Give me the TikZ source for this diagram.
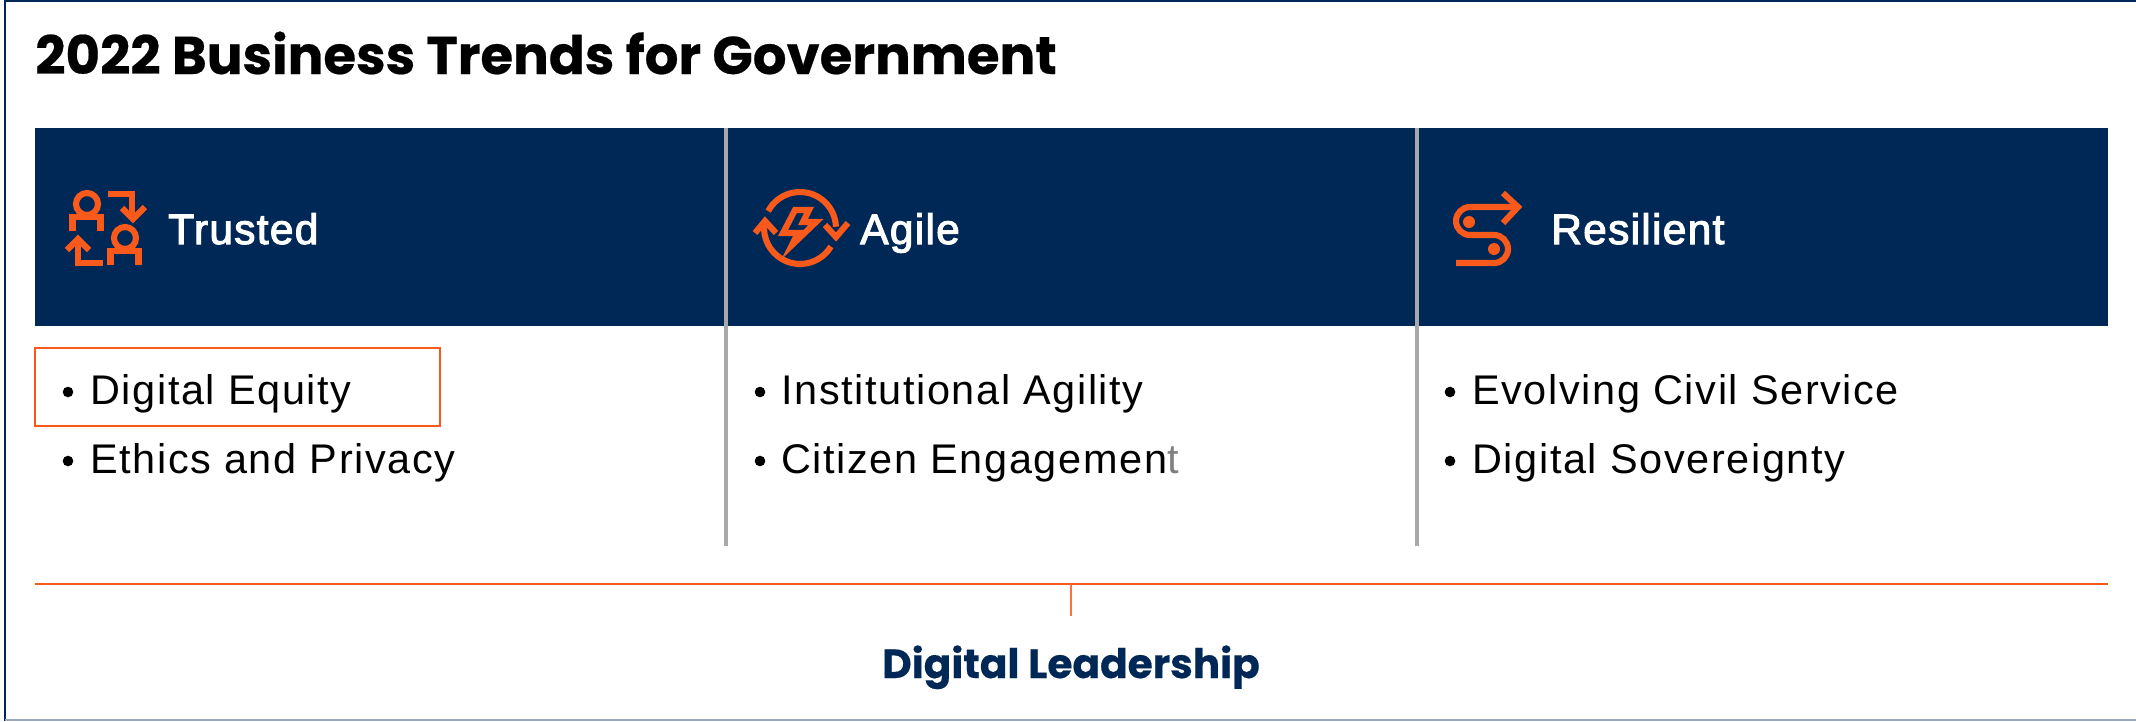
\documentclass[tikz,border=0pt]{standalone}
\usepackage{fontspec}
\setmainfont{Liberation Sans}
\newfontfamily\titlefont{Poppins}
\definecolor{navy}{HTML}{002856}
\definecolor{orng}{HTML}{F9591B}
\definecolor{sep}{HTML}{A7A9AC}
\tikzset{
  x=0.0264583cm,y=-0.0264583cm,
  icon/.style={draw=orng,line width=4.6pt,line cap=butt,line join=miter},
  head/.style={text=white,font=\fontsize{32}{32}\selectfont\addfontfeature{FakeBold=2.5,LetterSpace=3},anchor=base west,inner sep=0pt},
  item/.style={text=black,font=\fontsize{31.2}{32}\selectfont\addfontfeature{LetterSpace=3.9},anchor=base west,inner sep=0pt},
  bul/.style={circle,fill=black,minimum size=8pt,inner sep=0pt}
}
\begin{document}
\begin{tikzpicture}
\useasboundingbox (0,0) rectangle (2136,721);
\fill[white] (0,0) rectangle (2136,721);
\draw[navy,line width=1.8pt] (5,721) -- (5,1) -- (2136,1);
\draw[navy!40,line width=1.2pt] (5,720) -- (2136,720);
\node[anchor=base west,inner sep=0pt,font=\titlefont\fontsize{39.9}{40}\selectfont\bfseries\addfontfeature{FakeBold=0.4},text=black] (title) at (35,74) {2022 Business Trends for Government};
\fill[navy] (35,128) rectangle (2108,326);
\draw[sep,line width=2.8pt] (726,128) -- (726,546);
\draw[sep,line width=2.8pt] (1417,128) -- (1417,546);
\node[head] (t1) at (168,244) {Trusted};
\node[head] (t2) at (860,244) {Agile};
\node[head] (t3) at (1551,244) {Resilient};
% Trusted icon
\draw[icon] (87,204) circle (11);
\draw[icon] (72.5,231) -- (72.5,217) -- (100.5,217) -- (100.5,231);
\draw[icon] (108,194) -- (132,194) -- (132,218);
\draw[icon] (122,208) -- (133,219) -- (145,207);
\draw[icon] (125,238) circle (11);
\draw[icon] (110.5,265) -- (110.5,251) -- (138.5,251) -- (138.5,265);
\draw[icon] (103,263) -- (78,263) -- (78,240);
\draw[icon] (67,250) -- (78,239) -- (89,250);
% Agile icon
\draw[icon] (768.2,211.1) arc (-152:-2:36);
\draw[icon] (825,225) -- (836,237) -- (848,223);
\draw[icon] (830.9,246.5) arc (31:186:36);
\draw[icon] (755,233) -- (765,221) -- (776,233);
\draw[icon] (795,210) -- (809,210) -- (803,222) -- (816,222) -- (792,245) -- (798,233) -- (783,233) -- cycle;
% Resilient icon
\draw[icon] (1518,207) -- (1470,207) arc (270:90:14) -- (1494,235) arc (-90:90:14) -- (1456,263);
\draw[icon] (1503,193) -- (1518,207) -- (1503,223);
\fill[orng] (1469,222) circle (6);
\fill[orng] (1494,249) circle (6);
% items
\node[bul] (b1) at (68,392) {};
\node[item] (i1) at (90,404) {Digital Equity};
\node[bul] (b2) at (68,461) {};
\node[item] (i2) at (90,473) {Ethics and Privacy};
\node[bul] (b3) at (760,392) {};
\node[item] (i3) at (781,404) {Institutional Agility};
\node[bul] (b4) at (760,461) {};
\node[item] (i4) at (781,473) {Citizen Engagemen\textcolor{gray}{t}};
\node[bul] (b5) at (1450,392) {};
\node[item] (i5) at (1472,404) {Evolving Civil Service};
\node[bul] (b6) at (1450,461) {};
\node[item] (i6) at (1472,473) {Digital Sovereignty};
\draw[orng,line width=2pt] (35,348) rectangle (440,426);
\draw[orng,line width=2.1pt] (35,584) -- (2108,584);
\draw[orng!85!white,line width=2.1pt] (1071,584) -- (1071,616);
\node[anchor=base,inner sep=0pt,font=\titlefont\fontsize{30.6}{31}\selectfont\bfseries\addfontfeature{FakeBold=0.4},text=navy] (dl) at (1071,678) {Digital Leadership};
\end{tikzpicture}
\end{document}
